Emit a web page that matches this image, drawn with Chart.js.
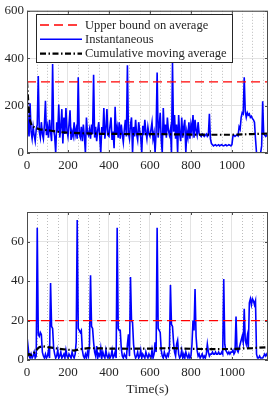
<!DOCTYPE html>
<html>
<head>
<meta charset="utf-8">
<title>Instantaneous vs cumulative moving average</title>
<script src="https://cdn.jsdelivr.net/npm/chart.js"></script>
<style>
    body { margin: 0; background: #fff; width: 270px; height: 399px; overflow: hidden; }
    #topChart { position: absolute; left: 0; top: 0; }
    #bottomChart { position: absolute; left: 0; top: 180px; }
</style>
</head>
<body>
<canvas id="topChart" width="270" height="180"></canvas>
<canvas id="bottomChart" width="270" height="219"></canvas>

<script>
    // samples are 5 s apart, starting at t = 0
    const SAMPLE_STEP = 5;
    const X_MAX = 1176;
    const X_TICKS = [0, 200, 400, 600, 800, 1000];

    // top panel
    const topInstant = [
        280, 120, 70, 210, 90, 60, 110, 75, 50, 100, 120, 325, 90, 65, 130, 80, 60, 120, 220, 75,
        110, 65, 140, 90, 50, 375, 100, 70, 0, 130, 90, 205, 65, 110, 185, 40, 150, 80, 190, 95,
        70, 120, 180, 55, 90, 70, 130, 75, 100, 60, 320, 80, 65, 110, 50, 120, 70, 0, 150, 85,
        75, 100, 60, 120, 80, 330, 65, 110, 50, 95, 130, 70, 0, 110, 80, 190, 60, 100, 185, 75,
        70, 115, 150, 55, 90, 20, 195, 80, 110, 65, 130, 60, 120, 80, 45, 100, 140, 70, 370, 85,
        60, 120, 150, 0, 110, 70, 140, 80, 55, 130, 95, 65, 0, 115, 75, 140, 90, 60, 110, 80,
        70, 100, 130, 60, 85, 0, 90, 340, 65, 110, 170, 55, 0, 190, 80, 120, 65, 150, 95, 75,
        100, 0, 380, 90, 160, 60, 120, 0, 160, 80, 50, 150, 65, 110, 140, 0, 90, 65, 130, 60,
        120, 90, 160, 65, 140, 95, 75, 130, 80, 75, 70, 80, 75, 70, 75, 80, 70, 75, 165, 60,
        40, 35, 30, 33, 35, 30, 32, 35, 30, 33, 35, 32, 30, 33, 35, 30, 32, 35, 33, 30,
        35, 72, 75, 70, 74, 76, 72, 110, 100, 150, 170, 165, 320, 175, 150, 170, 160, 165, 150, 155,
        145, 140, 130, 60, 0, 0, 0, 0, 0, 30, 218, 80, 75, 70, 75, 72
    ];
    const topAvgTime = [0, 3, 6, 10, 15, 23, 40, 63, 112, 160, 250, 350, 500, 700, 900, 1000, 1100, 1176];
    const topAvg = [300, 260, 218, 170, 136, 115, 106, 100, 95, 88, 84, 81, 80, 79, 77, 77, 80, 82];
    const topBound = 300;
    const topYTicks = [0, 200, 400, 600];

    // bottom panel
    const bottomInstant = [
        12, 7, 2, 1, 3, 1, 2, 4, 1, 2, 67, 13, 12, 14, 13, 4, 2, 1, 3, 1,
        2, 5, 1, 39, 17, 16, 6, 3, 1, 2, 5, 1, 2, 4, 1, 2, 3, 1, 5, 2,
        1, 3, 2, 1, 4, 2, 1, 3, 9, 71, 16, 15, 14, 15, 5, 2, 1, 3, 1, 4,
        2, 8, 43, 17, 16, 9, 4, 2, 7, 1, 3, 2, 6, 1, 4, 2, 1, 5, 2, 1,
        3, 1, 2, 5, 1, 2, 4, 1, 67, 16, 15, 15, 6, 2, 1, 3, 2, 1, 8, 13,
        2, 42, 20, 19, 8, 3, 1, 2, 4, 1, 2, 5, 1, 3, 2, 1, 4, 2, 1, 3,
        2, 1, 5, 1, 3, 9, 4, 67, 16, 15, 14, 5, 2, 1, 4, 2, 1, 3, 2, 5,
        38, 18, 17, 9, 4, 2, 8, 10, 3, 1, 2, 5, 1, 3, 1, 4, 2, 1, 3, 1,
        2, 8, 20, 15, 36, 12, 5, 2, 3, 1, 2, 3, 1, 2, 1, 3, 8, 4, 2, 3,
        3, 4, 3, 3, 4, 3, 3, 4, 3, 3, 4, 3, 41, 8, 5, 4, 3, 4, 3, 4,
        4, 5, 3, 4, 22, 5, 4, 6, 8, 10, 12, 9, 26, 10, 8, 12, 6, 29, 31, 28,
        31, 30, 28, 30, 3, 1, 1, 2, 1, 1, 1, 2, 3, 2, 3, 2
    ];
    const bottomAvgTime = [0, 10, 20, 30, 45, 60, 75, 100, 150, 200, 230, 260, 300, 400, 500, 600, 700, 800, 900, 1000, 1100, 1176];
    const bottomAvg = [2, 3, 2.5, 3, 5, 6.5, 7, 6.5, 5.8, 5.2, 4.8, 5.5, 6, 5.8, 5.7, 5.8, 6, 5.7, 5.5, 5.6, 6, 6.5];
    const bottomBound = 20;
    const bottomYTicks = [0, 20, 40, 60];

    const FONT = 'Liberation Serif, Times New Roman, serif';
    const TEXT = '#262626';

    function toPoints(times, values) {
        return values.map((v, i) => ({ x: times ? times[i] : i * SAMPLE_STEP, y: v }));
    }

    // dotted minor grid, box and inside tick marks, like a matlab axes
    const matlabAxes = {
        id: 'matlabAxes',
        beforeDatasetsDraw(chart) {
            const { ctx, chartArea: a, scales: { x } } = chart;
            ctx.save();
            ctx.strokeStyle = '#bdbdbd';
            ctx.lineWidth = 1;
            ctx.setLineDash([1, 2]);
            for (let v = 50; v < X_MAX; v += 50) {
                if (v % 200 === 0) continue;
                const px = Math.round(x.getPixelForValue(v)) + 0.5;
                ctx.beginPath();
                ctx.moveTo(px, a.top);
                ctx.lineTo(px, a.bottom);
                ctx.stroke();
            }
            ctx.restore();
        },
        afterDatasetsDraw(chart) {
            const { ctx, chartArea: a, scales: { x, y } } = chart;
            ctx.save();
            ctx.strokeStyle = '#4d4d4d';
            ctx.lineWidth = 1;
            ctx.strokeRect(a.left + 0.5, a.top + 0.5, a.right - a.left - 1, a.bottom - a.top - 1);
            ctx.beginPath();
            x.ticks.forEach(t => {
                const px = Math.round(x.getPixelForValue(t.value)) + 0.5;
                ctx.moveTo(px, a.bottom); ctx.lineTo(px, a.bottom - 3);
                ctx.moveTo(px, a.top); ctx.lineTo(px, a.top + 3);
            });
            y.ticks.forEach(t => {
                const py = Math.round(y.getPixelForValue(t.value)) + 0.5;
                ctx.moveTo(a.left, py); ctx.lineTo(a.left + 3, py);
                ctx.moveTo(a.right, py); ctx.lineTo(a.right - 3, py);
            });
            ctx.stroke();
            ctx.restore();
        },
        afterDraw(chart, args, opts) {
            if (!opts.legend) return;
            const ctx = chart.ctx;
            const box = { left: 36.5, top: 14.5, width: 196, height: 48 };
            ctx.save();
            ctx.fillStyle = '#fff';
            ctx.fillRect(box.left, box.top, box.width, box.height);
            ctx.strokeStyle = '#262626';
            ctx.lineWidth = 1;
            ctx.strokeRect(box.left, box.top, box.width, box.height);
            ctx.font = '12.5px ' + FONT;
            ctx.textBaseline = 'middle';
            const rows = [chart.data.datasets[2], chart.data.datasets[1], chart.data.datasets[0]];
            rows.forEach((ds, i) => {
                const yy = 25 + i * 14.3;
                ctx.strokeStyle = ds.borderColor;
                ctx.lineWidth = ds.borderWidth;
                ctx.setLineDash(ds.borderDash || []);
                ctx.beginPath();
                ctx.moveTo(40, yy);
                ctx.lineTo(82, yy);
                ctx.stroke();
                ctx.setLineDash([]);
                ctx.fillStyle = TEXT;
                ctx.fillText(ds.label, 85, yy + 0.5);
            });
            ctx.restore();
        }
    };

    function makeChart(id, instant, avgTime, avg, bound, yMax, yTicks, withLegend, withTitle) {
        return new Chart(document.getElementById(id), {
            type: 'line',
            data: {
                datasets: [
                    {
                        label: 'Cumulative moving average',
                        data: toPoints(avgTime, avg),
                        borderColor: '#000',
                        borderWidth: 2.2,
                        borderDash: [6, 2.5, 1.5, 2.5],
                        order: 1
                    },
                    {
                        label: 'Instantaneous',
                        data: toPoints(null, instant),
                        borderColor: '#0000ff',
                        borderWidth: 1.6,
                        order: 3
                    },
                    {
                        label: 'Upper bound on average',
                        data: [{ x: 0, y: bound }, { x: X_MAX, y: bound }],
                        borderColor: '#ff0000',
                        borderWidth: 1.3,
                        borderDash: [9, 5],
                        order: 2
                    }
                ]
            },
            options: {
                responsive: false,
                animation: false,
                events: [],
                layout: { padding: { top: withTitle ? 32 : 7, right: 2, left: 0, bottom: 0 } },
                elements: { point: { radius: 0 }, line: { tension: 0, fill: false } },
                scales: {
                    x: {
                        type: 'linear',
                        min: 0,
                        max: X_MAX,
                        afterFit: s => { s.height = withTitle ? 39 : 27; },
                        afterBuildTicks: s => { s.ticks = X_TICKS.map(v => ({ value: v })); },
                        ticks: {
                            font: { family: FONT, size: 13 }, color: TEXT, padding: 5, maxRotation: 0,
                            callback: v => String(v)
                        },
                        grid: { color: '#e3e3e3', drawTicks: false },
                        border: { display: false },
                        title: {
                            display: withTitle,
                            text: 'Time(s)',
                            font: { family: FONT, size: 13.5 },
                            color: TEXT,
                            padding: { top: 0, bottom: 1 }
                        }
                    },
                    y: {
                        min: 0,
                        max: yMax,
                        afterFit: s => { s.width = 27; },
                        afterBuildTicks: s => { s.ticks = yTicks.map(v => ({ value: v })); },
                        ticks: {
                            font: { family: FONT, size: 13 }, color: TEXT, padding: 3,
                            callback: v => String(v)
                        },
                        grid: { color: '#e3e3e3', drawTicks: false },
                        border: { display: false }
                    }
                },
                plugins: {
                    legend: { display: false },
                    tooltip: { enabled: false },
                    matlabAxes: { legend: withLegend }
                }
            },
            plugins: [matlabAxes]
        });
    }

    makeChart('topChart', topInstant, topAvgTime, topAvg, topBound, 600, topYTicks, true, false);
    makeChart('bottomChart', bottomInstant, bottomAvgTime, bottomAvg, bottomBound, 75, bottomYTicks, false, true);
</script>
</body>
</html>
